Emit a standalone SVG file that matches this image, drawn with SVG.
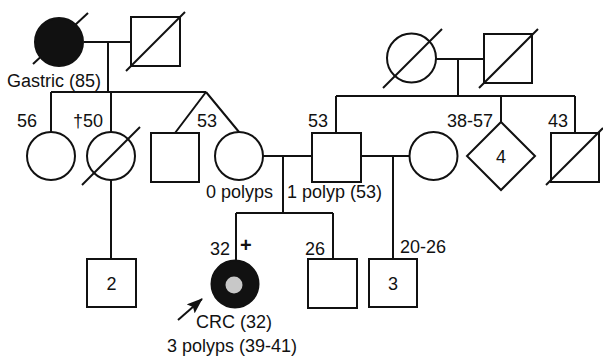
<svg xmlns="http://www.w3.org/2000/svg" width="603" height="356" viewBox="0 0 603 356">
<style>
.s{fill:#fff;stroke:#111;stroke-width:2}
.l{fill:none;stroke:#111;stroke-width:2}
.f{fill:#111;stroke:#111;stroke-width:2}
text{font-family:"Liberation Sans",Arial,sans-serif;font-size:18px;fill:#111}
</style>
<defs>
<marker id="ah" markerWidth="16" markerHeight="12" refX="15" refY="6" orient="auto" markerUnits="userSpaceOnUse">
<path d="M0,0 L16,6 L0,12 L3,6 Z" fill="#111"/>
</marker>
</defs>
<rect width="603" height="356" fill="#fff"/>
<g id="connectors" class="l">
<path class="l" d="M84,42 H131 M108,42 V92 M51,92 H206 M51,92 V132 M111,92 V132 M206,92 L175,133 M206,92 L239,132"/>
<path class="l" d="M436,59 H484 M458,59 V96 M336,96 H575 M336,96 V133 M501,96 V122 M575,96 V133"/>
<path class="l" d="M263,156 H312 M283,156 V213 M236,213 H333 M236,213 V260 M333,213 V259"/>
<path class="l" d="M361,156 H410 M393,156 V259"/>
<path class="l" d="M111,180 V259"/>
</g>
<g id="n_gm"><circle class="f" cx="59" cy="42" r="24"/><line class="l" x1="88" y1="13" x2="33" y2="64"/><text x="7" y="87">Gastric (85)</text></g>
<g id="n_gf"><rect class="s" x="131" y="17" width="49" height="49"/><line class="l" x1="185" y1="12" x2="126" y2="71"/></g>
<g id="n_rgm"><circle class="s" cx="411.5" cy="58" r="24.5"/><line class="l" x1="442" y1="29" x2="383" y2="88"/></g>
<g id="n_rgf"><rect class="s" x="484" y="34" width="48" height="49"/><line class="l" x1="538" y1="29" x2="479" y2="88"/></g>
<g id="n_a56"><circle class="s" cx="51" cy="156" r="24"/><text x="17" y="127">56</text></g>
<g id="n_a50"><circle class="s" cx="111" cy="156" r="24"/><line class="l" x1="140" y1="127" x2="82" y2="185"/><text x="73" y="127">†50</text></g>
<g id="n_u53"><rect class="s" x="151" y="133" width="48" height="49"/><text x="197" y="127">53</text></g>
<g id="n_mother"><circle class="s" cx="239" cy="156" r="24"/><text x="206" y="198">0 polyps</text></g>
<g id="n_father"><rect class="s" x="312" y="133" width="49" height="49"/><text x="308" y="127">53</text><text x="287" y="198">1 polyp (53)</text></g>
<g id="n_wife"><circle class="s" cx="433.5" cy="156" r="24"/></g>
<g id="n_sib4"><path class="s" d="M501,122 L535,156 L501,190 L467,156 Z"/><text x="501" y="163" text-anchor="middle">4</text><text x="447" y="127">38-57</text></g>
<g id="n_u43"><rect class="s" x="551" y="133" width="48" height="49"/><line class="l" x1="603" y1="128" x2="546" y2="185"/><text x="548" y="127">43</text></g>
<g id="n_c2"><rect class="s" x="87" y="259" width="49" height="48"/><text x="111.5" y="290" text-anchor="middle">2</text></g>
<g id="n_proband"><circle class="f" cx="235" cy="284" r="23.5"/><circle cx="234" cy="285" r="8.5" fill="#c8c8c8"/><text x="210" y="255">32</text><text x="240" y="252" style="font-weight:bold;font-size:20px">+</text><line class="l" x1="178" y1="320" x2="202" y2="299" marker-end="url(#ah)"/><text x="196" y="328">CRC (32)</text><text x="167" y="352">3 polyps (39-41)</text></g>
<g id="n_b26"><rect class="s" x="308" y="259" width="49" height="49"/><text x="305" y="255">26</text></g>
<g id="n_c3"><rect class="s" x="369" y="259" width="48" height="48"/><text x="393" y="290" text-anchor="middle">3</text><text x="400" y="253">20-26</text></g>
</svg>
